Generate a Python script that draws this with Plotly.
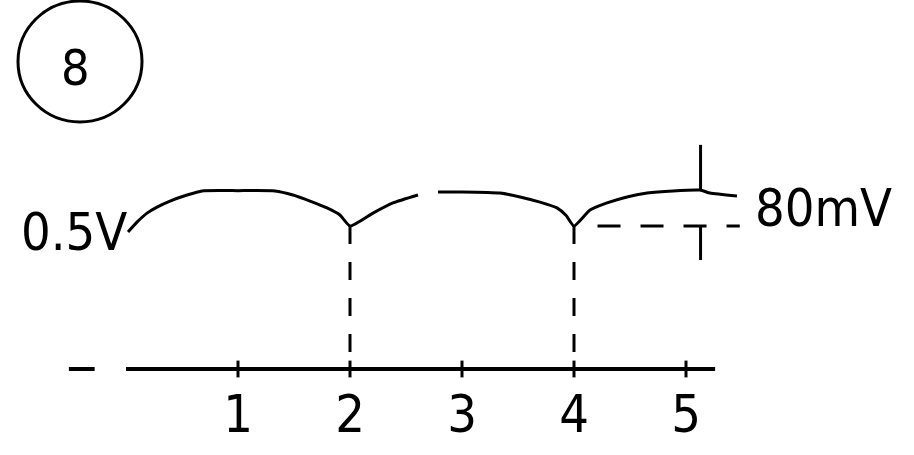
import plotly.graph_objects as go

# ---- data (schematic units: x = period index, y ~ volts) ----
wave1_x = [0.018, 0.098, 0.188, 0.277, 0.393, 0.545, 0.679, 1.0, 1.330, 1.491, 1.643, 1.795, 1.91, 2.0,
           2.205, 2.384, 2.607]
wave1_y = [0.500, 0.536, 0.569, 0.591, 0.613, 0.635, 0.650, 0.651, 0.650, 0.635, 0.613, 0.588, 0.562, 0.522,
           0.569, 0.606, 0.635]
wave2_x = [2.786, 3.0, 3.339, 3.518, 3.696, 3.848, 3.93, 4.0, 4.143, 4.295, 4.473, 4.652, 4.884, 5.125,
           5.214, 5.455]
wave2_y = [0.646, 0.646, 0.642, 0.628, 0.609, 0.588, 0.560, 0.522, 0.580, 0.606, 0.628, 0.642, 0.650, 0.653,
           0.642, 0.631]

tick_vals = [1, 2, 3, 4, 5]
tick_text = ["1", "2", "3", "4", "5"]

baseline_x = [0.0, 5.26]
lead_dash_x = [-0.51, -0.28]
cusp_x = [2, 4]
trough_level = 0.522
peak_level = 0.653
ripple_ref_start = 4.21
ripple_ref_end = 5.48
marker_x = 5.13
marker_top = 0.818
marker_bottom = 0.398

label_dc = "0.5V"
label_dc_y = 0.50
label_ripple = "80mV"
label_ripple_y = 0.588
panel_label = "8"

FONT = "DejaVu Sans Condensed, Liberation Sans Narrow, DejaVu Sans, sans-serif"
INK = "black"

fig = go.Figure()

# waveform
for wx, wy in ((wave1_x, wave1_y), (wave2_x, wave2_y)):
    fig.add_trace(go.Scatter(x=wx, y=wy, mode="lines",
                             line=dict(color=INK, width=3, shape="spline", smoothing=0.5),
                             showlegend=False, hoverinfo="skip"))

# baseline (time axis) and its leading dash
fig.add_trace(go.Scatter(x=baseline_x, y=[0, 0], mode="lines",
                         line=dict(color=INK, width=4), showlegend=False, hoverinfo="skip"))
fig.add_trace(go.Scatter(x=lead_dash_x, y=[0, 0], mode="lines",
                         line=dict(color=INK, width=4), showlegend=False, hoverinfo="skip"))
# tick marks on the baseline
fig.add_trace(go.Scatter(x=tick_vals, y=[0] * len(tick_vals), mode="markers",
                         marker=dict(symbol="line-ns", size=12, line=dict(color=INK, width=3)),
                         showlegend=False, hoverinfo="skip"))

# dashed verticals from cusps to baseline
for cx in cusp_x:
    fig.add_trace(go.Scatter(x=[cx, cx], y=[trough_level, 0], mode="lines",
                             line=dict(color=INK, width=3, dash="18px,18px"),
                             showlegend=False, hoverinfo="skip"))

# dashed horizontal reference at trough level
fig.add_trace(go.Scatter(x=[ripple_ref_start, ripple_ref_end], y=[trough_level, trough_level], mode="lines",
                         line=dict(color=INK, width=3, dash="23px,20px"),
                         showlegend=False, hoverinfo="skip"))

# ripple measurement markers
fig.add_trace(go.Scatter(x=[marker_x, marker_x], y=[peak_level, marker_top], mode="lines",
                         line=dict(color=INK, width=3), showlegend=False, hoverinfo="skip"))
fig.add_trace(go.Scatter(x=[marker_x, marker_x], y=[trough_level, marker_bottom], mode="lines",
                         line=dict(color=INK, width=3), showlegend=False, hoverinfo="skip"))

# labels
fig.add_annotation(x=0.03, y=label_dc_y, text=label_dc, showarrow=False,
                   xanchor="right", yanchor="middle",
                   font=dict(family=FONT, size=52, color=INK))
fig.add_annotation(x=5.60, y=label_ripple_y, text=label_ripple, showarrow=False,
                   xanchor="left", yanchor="middle",
                   font=dict(family=FONT, size=52, color=INK))

# circled panel number
fig.add_shape(type="circle", xref="paper", yref="paper",
              x0=18 / 914, x1=142 / 914, y0=(455 - 122) / 455, y1=(455 - 1) / 455,
              line=dict(color=INK, width=3))
fig.add_annotation(xref="paper", yref="paper", x=75 / 914, y=(455 - 68) / 455,
                   text=panel_label, showarrow=False, xanchor="center", yanchor="middle",
                   font=dict(family=FONT, size=50, color=INK))

fig.update_layout(
    width=914, height=455,
    margin=dict(l=0, r=0, t=0, b=0),
    paper_bgcolor="white", plot_bgcolor="white",
    showlegend=False,
    xaxis=dict(range=[-126 / 112, (914 - 126) / 112], tickvals=tick_vals, ticktext=tick_text,
               showgrid=False, zeroline=False, showline=False, ticks="",
               anchor="free", position=(455 - 379) / 455,
               tickfont=dict(family=FONT, size=52, color=INK)),
    yaxis=dict(range=[-(455 - 369) / 274, 369 / 274], visible=False,
               showgrid=False, zeroline=False),
)

fig.write_html("out.html", config={"displayModeBar": False},
               post_script="document.body.style.margin='0';")
